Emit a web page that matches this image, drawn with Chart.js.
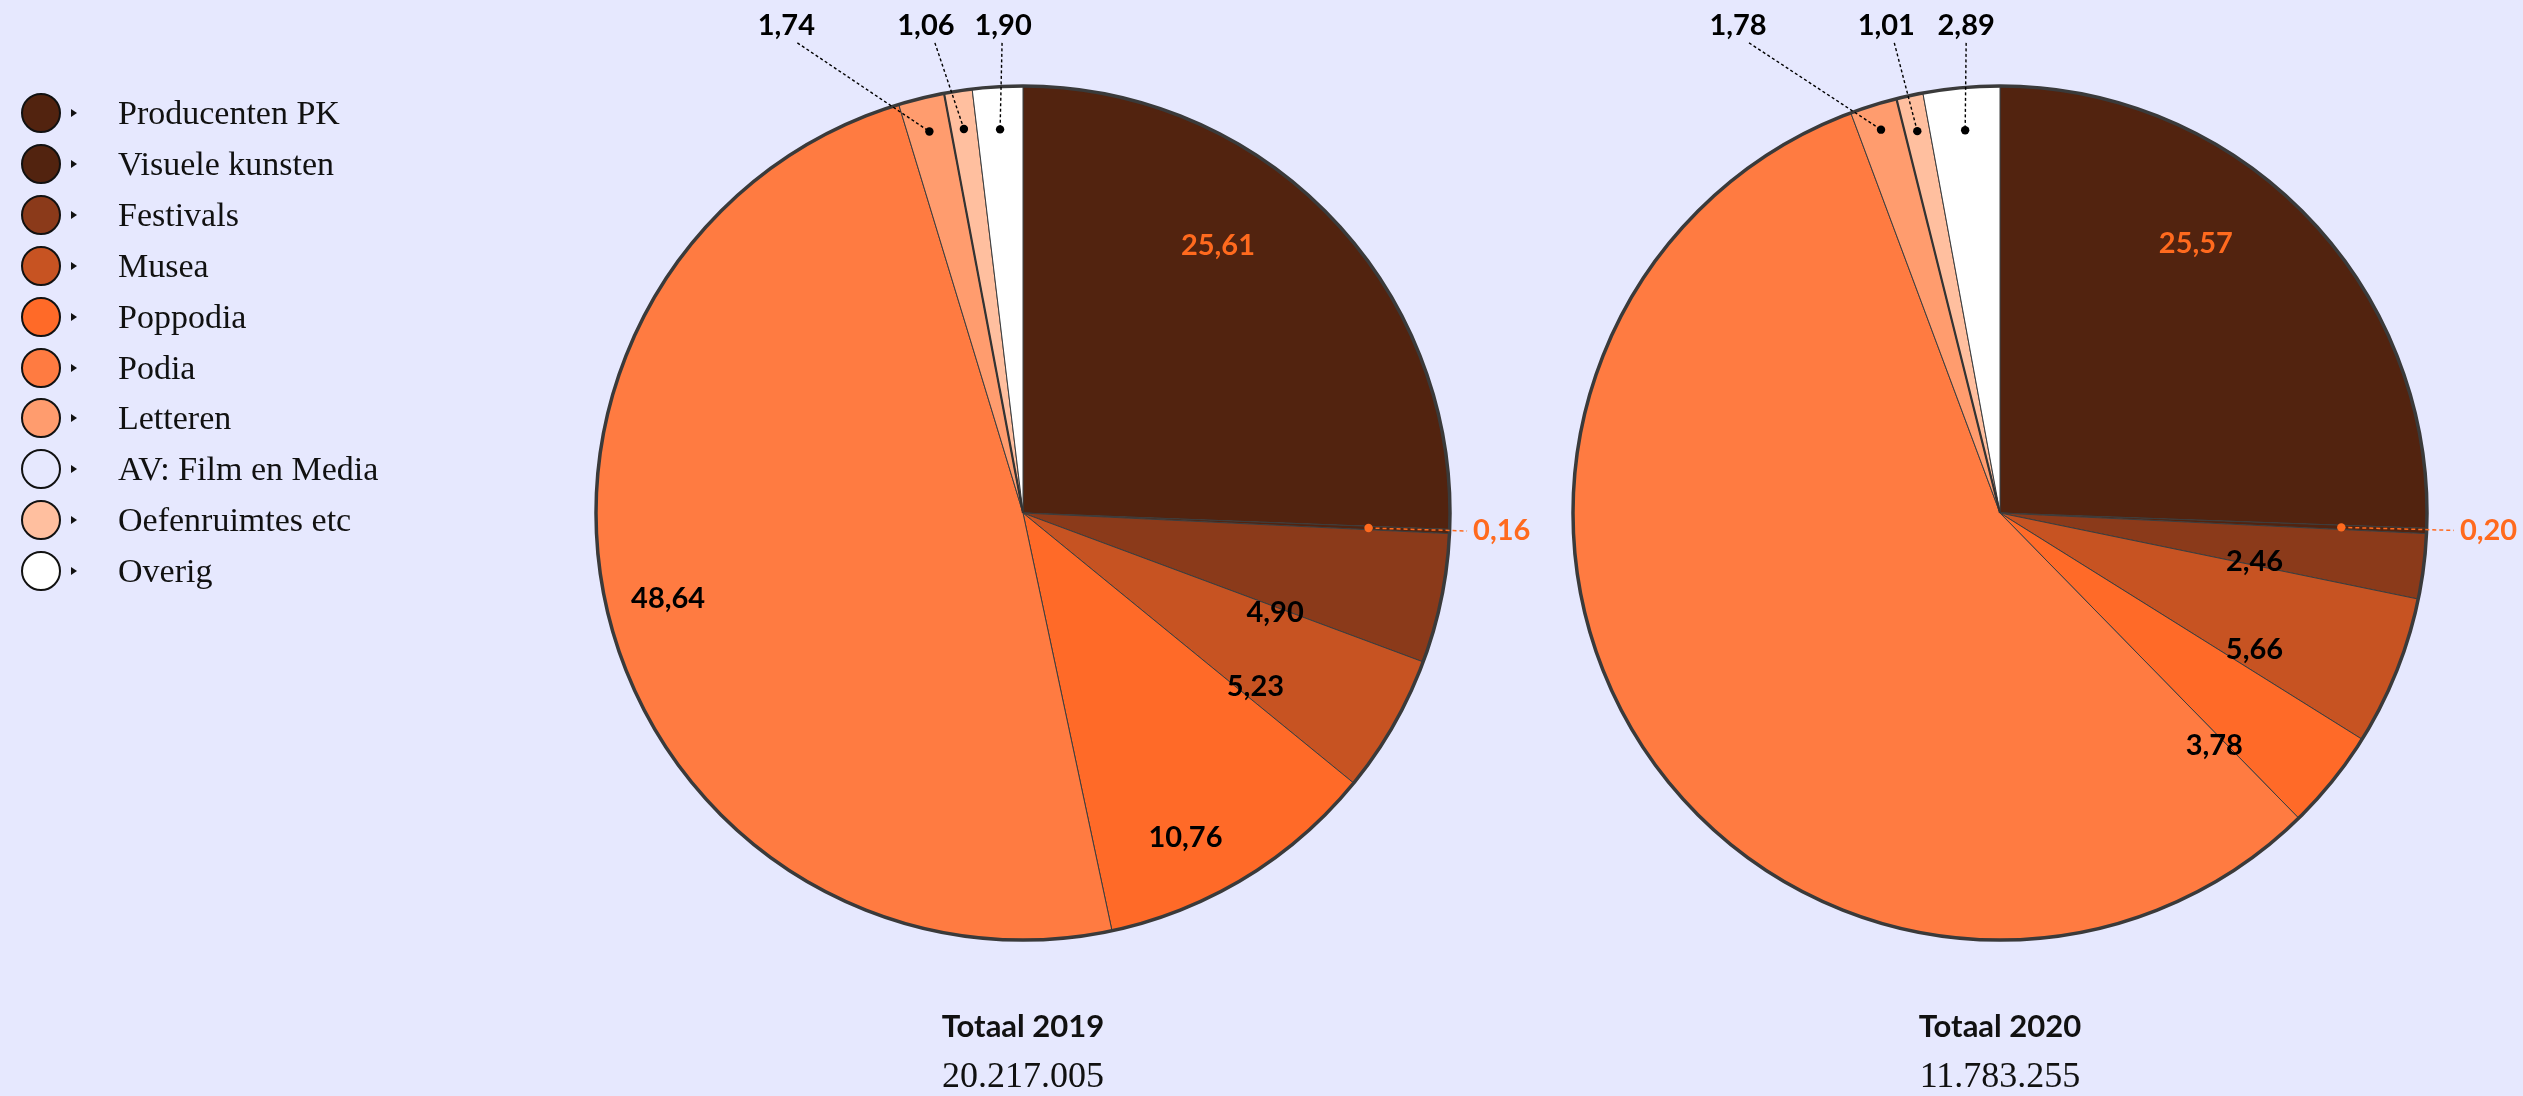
<!DOCTYPE html>
<html>
<head>
<meta charset="utf-8">
<script src="https://cdn.jsdelivr.net/npm/chart.js@4.4.1/dist/chart.umd.min.js"></script>
<style>
  html, body { margin:0; padding:0; background:#e6e8fe; width:2523px; height:1096px; overflow:hidden; }
  #wrap { position:relative; width:2523px; height:1096px; }
  canvas.pie { position:absolute; left:0; top:0; }
  .li { position:absolute; left:0; height:40px; width:420px; }
  .li .dot { position:absolute; left:21px; top:0; width:36px; height:36px; border:2px solid #111; border-radius:50%; box-sizing:content-box; }
  .li .tri { position:absolute; left:71px; top:16px; width:0; height:0; border-top:4px solid transparent; border-bottom:4px solid transparent; border-left:6px solid #111; }
  .li .txt { position:absolute; left:118px; top:0px; font-family:"Liberation Serif", serif; font-size:34px; line-height:40px; color:#111; white-space:nowrap; }
  .tot { position:absolute; width:600px; text-align:center; color:#111; }
  .tot .t1 { font-family:Lato, sans-serif; font-weight:700; font-size:31px; line-height:36px; }
  .tot .t2 { font-family:"Liberation Serif", serif; font-size:36px; line-height:40px; margin-top:12px; }
</style>
</head>
<body>
<div id="wrap">
  <canvas id="c2019" class="pie" width="2523" height="1096"></canvas>
  <canvas id="c2020" class="pie" width="2523" height="1096"></canvas>
  <div id="legend"></div>
  <div id="tots"></div>
</div>
<script>
// ---------- data ----------
const categories = ['Producenten PK','Visuele kunsten','Festivals','Musea','Poppodia','Podia','Letteren','AV: Film en Media','Oefenruimtes etc','Overig'];
const values2019 = [25.61, 0.16, 4.90, 5.23, 10.76, 48.64, 1.74, 0, 1.06, 1.90];
const values2020 = [25.57, 0.20, 2.46, 5.66, 3.78, 56.65, 1.78, 0, 1.01, 2.89];
const chartTitles = ['Totaal 2019', 'Totaal 2020'];
const chartTotals = ['20.217.005', '11.783.255'];

// ---------- styles ----------
const sliceColors = ['#52230f','#52230f','#8b3a1a','#c75322','#ff6a28','#ff7b41','#ff9c6e','rgba(0,0,0,0)','#ffbf9f','#ffffff'];
const legendColors = ['#52230f','#52230f','#8b3a1a','#c75322','#ff6a28','#ff7b41','#ff9c6e','transparent','#ffbf9f','#ffffff'];
const accent = '#ff6a1e';

// label placement rules (relative to each slice's own geometry)
const layout2019 = [
  {kind:'in', rf:0.775, da:-10, color:accent},
  {kind:'right', rf:0.81, tr:1.054},
  {kind:'in', rf:0.635, da:10},
  {kind:'in', rf:0.68, da:7},
  {kind:'in', rf:0.85, da:4.8},
  {kind:'in', rf:0.855, da:0.9},
  {kind:'top', rf:0.92, dx:-143, lx:11},
  {kind:'none'},
  {kind:'top', rf:0.91, dx:-38, lx:9},
  {kind:'top', rf:0.90, dx:3, lx:-1}
];
const layout2020 = [
  {kind:'in', rf:0.78, da:-10, color:accent},
  {kind:'right', rf:0.80, tr:1.077},
  {kind:'in', rf:0.607, da:3.7},
  {kind:'in', rf:0.677, da:6.5},
  {kind:'in', rf:0.74, da:8.5},
  {kind:'none'},
  {kind:'top', rf:0.94, dx:-143, lx:11},
  {kind:'none'},
  {kind:'top', rf:0.915, dx:-31, lx:8},
  {kind:'top', rf:0.90, dx:1, lx:0}
];

const fmt = v => v.toFixed(2).replace('.', ',');

const sliceLabels = {
  id: 'sliceLabels',
  afterDatasetsDraw(chart, args, opts) {
    const ctx = chart.ctx;
    const meta = chart.getDatasetMeta(0);
    const vals = chart.data.datasets[0].data;
    const lay = opts.layout;
    const first = meta.data[0].getProps(['x','y','outerRadius'], true);
    const cx = first.x, cy = first.y, R = first.outerRadius;
    ctx.save();
    // separators for empty slices
    meta.data.forEach((arc, i) => {
      const p = arc.getProps(['startAngle','endAngle'], true);
      if (vals[i] === 0) {
        ctx.beginPath();
        ctx.moveTo(cx, cy);
        ctx.lineTo(cx + Math.cos(p.startAngle) * R, cy + Math.sin(p.startAngle) * R);
        ctx.lineWidth = 2.2; ctx.strokeStyle = '#333'; ctx.stroke();
      }
    });
    // outer ring
    ctx.beginPath();
    ctx.arc(cx, cy, R, 0, Math.PI * 2);
    ctx.lineWidth = 3.5; ctx.strokeStyle = '#3a3a3a'; ctx.stroke();

    ctx.font = '700 29px Lato, sans-serif';
    ctx.textAlign = 'center';
    ctx.textBaseline = 'middle';
    meta.data.forEach((arc, i) => {
      const L = lay[i];
      if (!L || L.kind === 'none') return;
      const p = arc.getProps(['startAngle','endAngle'], true);
      const mid = (p.startAngle + p.endAngle) / 2;
      const txt = fmt(vals[i]);
      if (L.kind === 'in') {
        const a = mid + L.da * Math.PI / 180;
        ctx.fillStyle = L.color || '#000';
        ctx.fillText(txt, cx + Math.cos(a) * R * L.rf, cy + Math.sin(a) * R * L.rf);
      } else if (L.kind === 'top') {
        const dx = cx + Math.cos(mid) * R * L.rf, dy = cy + Math.sin(mid) * R * L.rf;
        const tx = dx + L.dx, ty = cy - R * 1.142;
        ctx.beginPath();
        ctx.setLineDash([3, 2.5]);
        ctx.moveTo(tx + L.lx, cy - R * 1.101);
        ctx.lineTo(dx, dy);
        ctx.lineWidth = 1.4; ctx.strokeStyle = '#000'; ctx.stroke();
        ctx.setLineDash([]);
        ctx.beginPath(); ctx.arc(dx, dy, 4.2, 0, Math.PI * 2); ctx.fillStyle = '#000'; ctx.fill();
        ctx.fillStyle = '#000';
        ctx.fillText(txt, tx, ty);
      } else if (L.kind === 'right') {
        const dx = cx + Math.cos(mid) * R * L.rf, dy = cy + Math.sin(mid) * R * L.rf;
        const tx = cx + R * L.tr, ty = dy + 3;
        ctx.beginPath();
        ctx.setLineDash([4, 3]);
        ctx.moveTo(dx, dy);
        ctx.lineTo(tx - 6, ty);
        ctx.lineWidth = 1.5; ctx.strokeStyle = accent; ctx.stroke();
        ctx.setLineDash([]);
        ctx.beginPath(); ctx.arc(dx, dy, 4.2, 0, Math.PI * 2); ctx.fillStyle = accent; ctx.fill();
        ctx.textAlign = 'left';
        ctx.fillStyle = accent;
        ctx.fillText(txt, tx, ty);
        ctx.textAlign = 'center';
      }
    });
    ctx.restore();
  }
};

function makePie(id, values, layout, padLeft, padRight) {
  return new Chart(document.getElementById(id), {
    type: 'pie',
    data: {
      labels: categories,
      datasets: [{
        data: values,
        backgroundColor: sliceColors,
        borderColor: '#3c3c3c',
        borderWidth: 1,
        hoverOffset: 0
      }]
    },
    options: {
      responsive: false,
      animation: false,
      events: [],
      radius: 427,
      layout: { padding: { left: padLeft, right: padRight, top: 0, bottom: 70 } },
      plugins: {
        legend: { display: false },
        tooltip: { enabled: false },
        title: { display: false },
        sliceLabels: { layout: layout }
      }
    },
    plugins: [sliceLabels]
  });
}

// centre 2019 at x=1023, 2020 at x=2000 (canvas width 2523)
makePie('c2019', values2019, layout2019, 0, 477);
makePie('c2020', values2020, layout2020, 1477, 0);

// ---------- legend ----------
const leg = document.getElementById('legend');
categories.forEach((c, i) => {
  const d = document.createElement('div');
  d.className = 'li';
  d.style.top = (113 - 20 + i * 50.9) + 'px';
  d.innerHTML = '<div class="dot" style="background:' + legendColors[i] + '"></div><div class="tri"></div><div class="txt"></div>';
  d.querySelector('.txt').textContent = c;
  leg.appendChild(d);
});

// ---------- totals ----------
const tots = document.getElementById('tots');
[1023, 2000].forEach((x, i) => {
  const d = document.createElement('div');
  d.className = 'tot';
  d.style.left = (x - 300) + 'px';
  d.style.top = '1007px';
  d.innerHTML = '<div class="t1"></div><div class="t2"></div>';
  d.querySelector('.t1').textContent = chartTitles[i];
  d.querySelector('.t2').textContent = chartTotals[i];
  tots.appendChild(d);
});
</script>
</body>
</html>
